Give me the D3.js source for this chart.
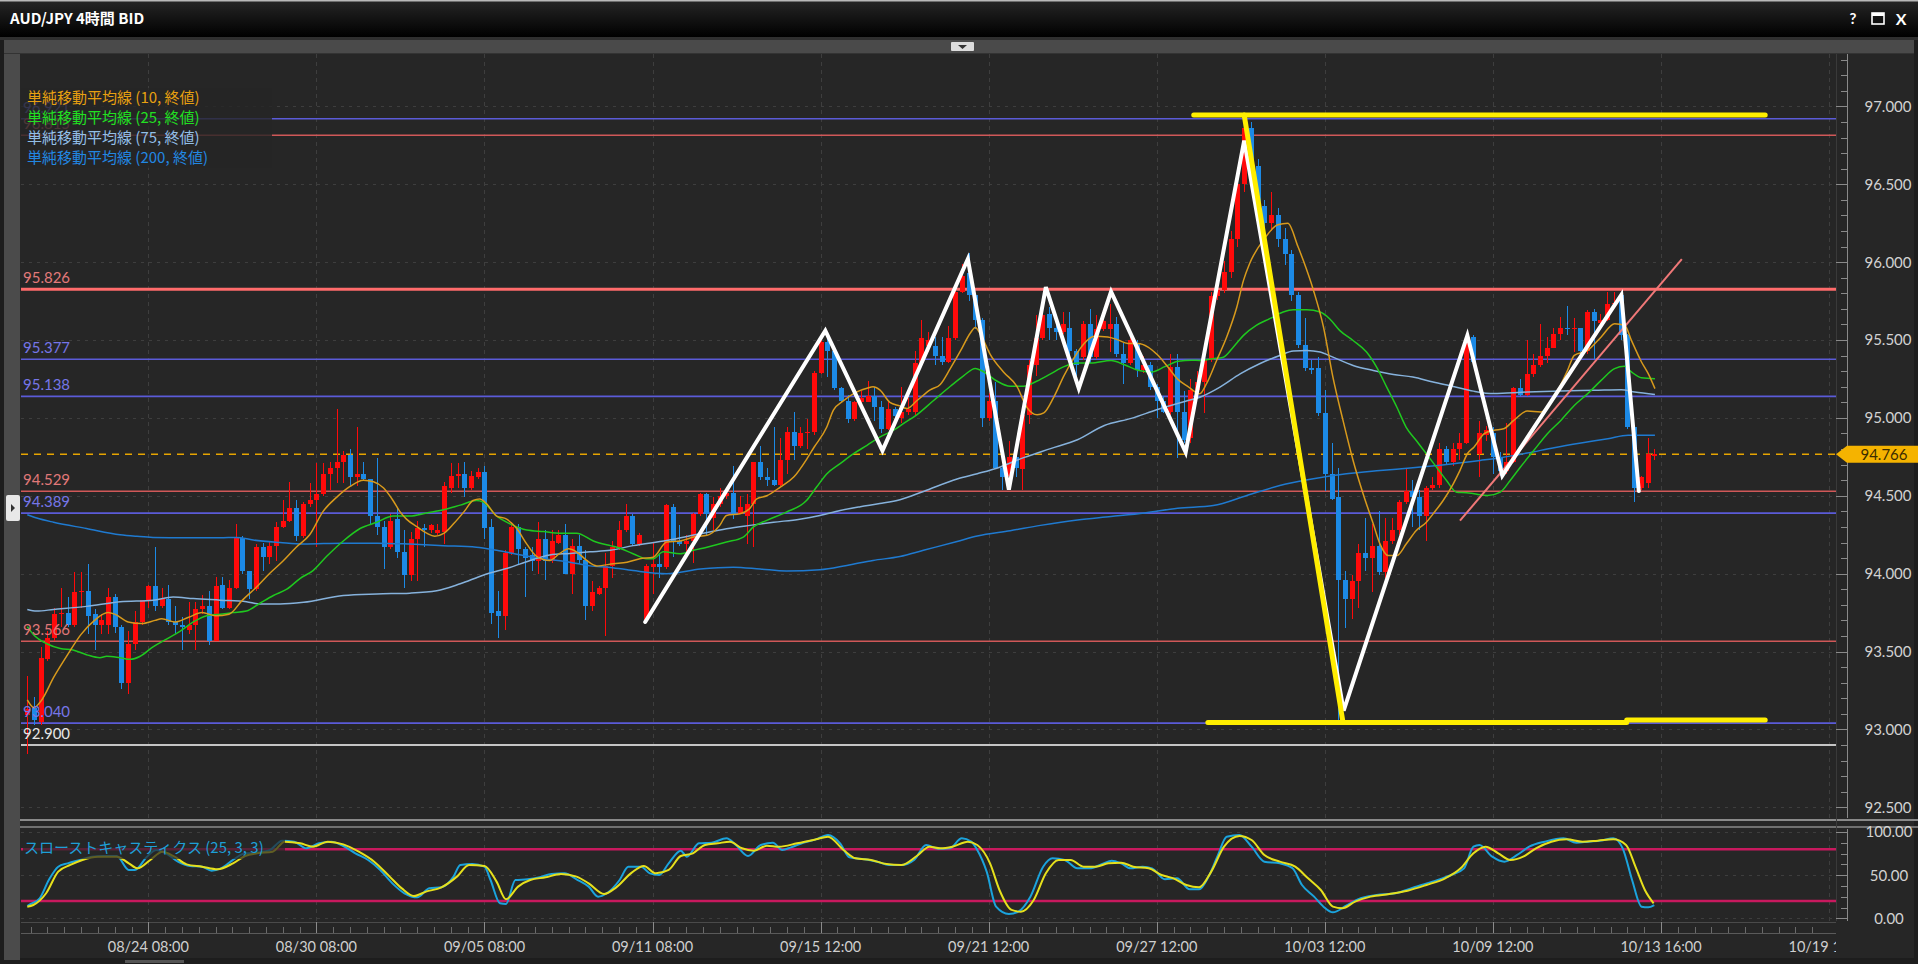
<!DOCTYPE html>
<html><head><meta charset="utf-8">
<script src="https://cdn.jsdelivr.net/npm/d3@7"></script>
<style>
html,body{margin:0;padding:0;background:#1c1c1c;overflow:hidden;}
svg{display:block;}
text{font-family:Lato,"Noto Sans CJK JP",sans-serif;}
</style></head><body>
<svg id="chart" width="1918" height="964"></svg>
<script>
// ---------------- DATA ----------------
const title = "AUD/JPY 4時間 BID";
const opens = [93.09,93.14,93.05,93.45,93.59,93.74,93.75,93.67,93.88,93.89,
93.74,93.67,93.67,93.85,93.66,93.30,93.55,93.69,93.83,93.92,
93.79,93.84,93.69,93.67,93.64,93.67,93.77,93.79,93.57,93.93,
93.78,93.91,94.23,94.02,93.90,94.17,94.11,94.18,94.30,94.34,
94.42,94.24,94.45,94.47,94.51,94.64,94.68,94.72,94.76,94.62,
94.64,94.61,94.37,94.30,94.17,94.35,94.14,93.99,94.22,94.29,
94.28,94.26,94.27,94.55,94.63,94.64,94.55,94.62,94.65,94.30,
93.76,93.73,94.13,94.30,94.16,94.12,94.08,94.22,94.08,94.20,
94.25,94.00,94.18,94.09,93.79,93.87,93.91,94.05,94.17,94.28,
94.37,94.19,93.70,94.04,94.06,94.04,94.43,94.21,94.19,94.21,
94.38,94.51,94.36,94.45,94.50,94.52,94.38,94.37,94.45,94.72,
94.62,94.60,94.57,94.73,94.91,94.82,94.90,94.91,95.29,95.49,
95.43,95.19,95.11,94.99,95.10,95.10,95.14,95.07,94.93,95.06,
95.00,95.04,95.04,95.35,95.46,95.46,95.40,95.36,95.51,95.81,
95.93,95.79,95.63,95.00,95.11,94.68,94.63,94.75,94.67,95.02,
95.34,95.51,95.67,95.58,95.55,95.58,95.43,95.39,95.60,95.39,
95.57,95.57,95.60,95.41,95.35,95.48,95.31,95.34,95.20,95.11,
95.04,95.33,95.04,94.87,95.18,95.23,95.37,95.78,95.82,95.94,
96.15,96.50,96.86,96.62,96.36,96.25,96.30,96.15,96.05,95.79,
95.47,95.32,95.32,95.03,94.64,94.49,93.96,93.84,93.95,94.13,
94.10,94.18,94.01,94.21,94.28,94.46,94.53,94.49,94.37,94.55,
94.57,94.80,94.72,94.80,94.84,95.52,94.77,94.89,94.90,94.75,
94.66,94.72,95.19,95.15,95.28,95.34,95.40,95.45,95.54,95.58,
95.57,95.58,95.43,95.68,95.61,95.63,95.73,95.79,95.53,94.94,
94.55,94.58,94.76];
const highs = [93.34,93.21,93.53,93.63,93.78,93.91,93.85,94.01,94.01,94.06,
93.77,93.74,93.91,93.87,93.67,93.63,93.76,93.83,93.93,94.17,
93.91,93.93,93.79,93.72,93.82,93.82,93.86,93.89,93.98,93.98,
93.96,94.32,94.24,94.02,94.19,94.20,94.21,94.33,94.47,94.59,
94.47,94.46,94.58,94.71,94.71,94.72,95.06,94.79,94.80,94.94,
94.72,94.61,94.74,94.34,94.38,94.42,94.28,94.27,94.34,94.32,
94.32,94.32,94.59,94.71,94.71,94.72,94.66,94.68,94.69,94.35,
93.89,94.15,94.33,94.32,94.17,94.17,94.33,94.28,94.28,94.28,
94.32,94.22,94.25,94.15,93.95,93.92,94.13,94.21,94.34,94.45,
94.38,94.26,94.06,94.20,94.13,94.45,94.45,94.31,94.25,94.39,
94.52,94.52,94.49,94.55,94.53,94.69,94.50,94.51,94.72,94.82,
94.68,94.94,94.87,94.94,95.04,94.94,94.99,95.30,95.54,95.53,
95.45,95.20,95.15,95.11,95.17,95.24,95.20,95.11,95.11,95.07,
95.20,95.13,95.43,95.63,95.55,95.52,95.52,95.59,95.82,95.99,
96.06,95.80,95.64,95.16,95.23,94.70,94.85,94.80,95.04,95.37,
95.66,95.71,95.71,95.62,95.68,95.68,95.44,95.62,95.70,95.66,
95.68,95.73,95.65,95.48,95.52,95.50,95.40,95.36,95.22,95.14,
95.41,95.41,95.17,95.25,95.30,95.39,95.81,95.86,96.01,96.20,
96.58,96.94,96.90,96.66,96.40,96.45,96.35,96.22,96.08,95.81,
95.64,95.37,95.39,95.18,94.84,94.68,94.02,93.99,94.19,94.36,
94.32,94.40,94.36,94.36,94.47,94.68,94.60,94.54,94.56,94.62,
94.84,94.82,94.84,94.90,95.54,95.53,94.98,94.95,94.94,94.78,
94.97,95.20,95.25,95.50,95.41,95.60,95.52,95.58,95.65,95.72,
95.64,95.58,95.69,95.70,95.67,95.81,95.81,95.81,95.54,94.95,
94.63,94.87,94.80];
const lows = [92.84,93.03,93.03,93.44,93.57,93.66,93.66,93.66,93.78,93.61,
93.51,93.61,93.61,93.62,93.26,93.23,93.51,93.67,93.78,93.76,
93.78,93.67,93.61,93.51,93.61,93.51,93.74,93.54,93.57,93.77,
93.77,93.90,94.00,93.84,93.89,94.02,94.06,94.08,94.29,94.33,
94.21,94.23,94.43,94.17,94.50,94.54,94.58,94.58,94.56,94.56,
94.60,94.32,94.25,94.03,94.16,94.10,93.91,93.95,93.95,94.17,
94.26,94.25,94.19,94.52,94.55,94.49,94.54,94.61,94.22,93.68,
93.59,93.64,94.12,94.06,93.85,94.02,94.00,93.96,94.07,94.19,
94.00,93.87,94.06,93.70,93.76,93.86,93.60,93.97,94.15,94.27,
94.18,94.18,93.69,93.87,93.97,94.03,94.11,94.18,94.13,94.07,
94.37,94.24,94.28,94.43,94.48,94.35,94.38,94.19,94.17,94.60,
94.56,94.56,94.56,94.64,94.73,94.81,94.80,94.89,95.28,95.26,
95.18,95.10,94.97,94.98,95.09,95.10,94.98,94.90,94.92,94.98,
94.97,95.02,95.02,95.34,95.42,95.34,95.34,95.35,95.50,95.80,
95.75,95.57,94.94,94.98,94.67,94.54,94.55,94.62,94.54,94.96,
95.27,95.50,95.50,95.50,95.54,95.39,95.27,95.37,95.35,95.38,
95.56,95.42,95.39,95.22,95.34,95.26,95.29,95.18,95.00,95.03,
95.02,94.74,94.84,94.84,95.14,95.03,95.36,95.76,95.80,95.90,
96.10,96.45,96.55,96.30,96.18,96.20,96.10,95.98,95.75,95.45,
95.30,95.28,95.01,94.53,94.47,93.06,93.65,93.71,93.78,94.02,
93.88,93.99,93.97,94.19,94.25,94.45,94.30,94.28,94.21,94.54,
94.55,94.70,94.69,94.73,94.83,95.34,94.62,94.85,94.64,94.63,
94.64,94.71,95.14,95.14,95.26,95.33,95.35,95.45,95.50,95.53,
95.42,95.41,95.41,95.38,95.58,95.62,95.72,95.50,94.93,94.46,
94.54,94.55,94.73];
const closes = [93.13,93.06,93.46,93.59,93.74,93.75,93.67,93.88,93.89,93.73,
93.67,93.70,93.85,93.66,93.30,93.55,93.69,93.83,93.92,93.79,
93.84,93.69,93.67,93.66,93.67,93.77,93.79,93.57,93.92,93.78,
93.91,94.23,94.02,93.90,94.17,94.11,94.18,94.30,94.34,94.42,
94.24,94.45,94.47,94.51,94.64,94.68,94.72,94.76,94.62,94.64,
94.61,94.37,94.30,94.17,94.34,94.14,93.99,94.22,94.29,94.28,
94.31,94.28,94.56,94.63,94.64,94.55,94.63,94.65,94.29,93.75,
93.73,94.13,94.30,94.16,94.10,94.08,94.22,94.08,94.21,94.25,
94.00,94.18,94.09,93.79,93.88,93.91,94.05,94.17,94.28,94.37,
94.19,94.25,94.05,94.06,94.04,94.44,94.21,94.19,94.21,94.38,
94.51,94.38,94.45,94.50,94.52,94.38,94.43,94.45,94.72,94.62,
94.60,94.57,94.73,94.91,94.82,94.90,94.91,95.29,95.49,95.43,
95.19,95.11,94.99,95.10,95.13,95.14,95.07,94.93,95.06,95.01,
95.04,95.06,95.35,95.51,95.50,95.40,95.36,95.51,95.81,95.91,
95.79,95.63,95.00,95.11,94.68,94.62,94.75,94.68,95.02,95.34,
95.51,95.66,95.58,95.55,95.60,95.43,95.34,95.60,95.39,95.57,
95.62,95.60,95.41,95.35,95.50,95.31,95.34,95.20,95.11,95.04,
95.33,95.04,94.86,95.18,95.23,95.37,95.78,95.82,95.94,96.15,
96.50,96.86,96.62,96.36,96.25,96.30,96.15,96.05,95.79,95.47,
95.32,95.31,95.03,94.64,94.48,93.96,93.84,93.95,94.13,94.10,
94.18,94.01,94.21,94.28,94.46,94.53,94.49,94.37,94.55,94.57,
94.80,94.72,94.80,94.84,95.50,95.36,94.90,94.92,94.75,94.66,
94.72,95.19,95.15,95.28,95.34,95.40,95.45,95.54,95.58,95.57,
95.58,95.43,95.68,95.62,95.63,95.73,95.74,95.53,94.94,94.55,
94.62,94.77,94.766];

// moving averages: [candle index, value]
const sma10 = [[0,93.19],[1,93.14],[2,93.18],[4,93.34],[6,93.48],[8,93.61],[10,93.70],[12,93.75],[13,93.74],[15,93.69],[17,93.68],[19,93.70],[20,93.71],[22,93.69],[24,93.72],[26,93.75],[28,93.73],[30,93.74],[32,93.83],[34,93.91],[36,94.00],[38,94.08],[40,94.17],[42,94.25],[44,94.40],[46,94.49],[48,94.56],[50,94.60],[51.5,94.59],[53,94.55],[54.4,94.47],[55.4,94.40],[56.4,94.35],[58,94.30],[59.4,94.26],[60.6,94.24],[62,94.26],[63.4,94.32],[65,94.40],[66.3,94.47],[67.3,94.48],[68.3,94.45],[69.8,94.37],[71.3,94.35],[72.8,94.29],[74.3,94.19],[75.8,94.11],[77.7,94.085],[79.2,94.13],[80.5,94.16],[81.7,94.14],[83.2,94.085],[84.7,94.05],[87.2,94.064],[89.2,94.074],[91.1,94.096],[93.1,94.106],[95.1,94.203],[97.1,94.21],[99.1,94.235],[101.1,94.246],[103,94.31],[104,94.374],[106,94.385],[107.5,94.42],[108.5,94.48],[110,94.50],[112,94.556],[114,94.62],[116,94.74],[117,94.81],[118.9,94.94],[119.9,95.05],[121.4,95.11],[122.9,95.156],[124.9,95.19],[125.8,95.20],[126.8,95.18],[128.3,95.10],[129.8,95.077],[130.8,95.06],[132.3,95.11],[134.3,95.18],[135.8,95.215],[137.3,95.318],[138.8,95.43],[140.3,95.547],[141,95.581],[141.8,95.535],[143.2,95.41],[145.2,95.295],[147.2,95.203],[148.7,95.066],[150.2,95.02],[151.2,95.032],[152.7,95.135],[154.2,95.272],[155.7,95.386],[157.2,95.478],[158.7,95.524],[160.7,95.52],[162.2,95.501],[163.7,95.478],[165.2,95.478],[166.7,95.455],[168.1,95.405],[169.6,95.33],[171.1,95.249],[172.6,95.203],[174.4,95.155],[175.4,95.22],[176.9,95.369],[178.4,95.519],[179.9,95.71],[180.9,95.883],[181.8,95.99],[184,96.15],[186,96.24],[187.5,96.25],[189,96.10],[189.8,96.01],[191.3,95.82],[192.8,95.583],[194.2,95.262],[195.7,94.984],[197.2,94.727],[198.7,94.512],[200.2,94.32],[201.2,94.191],[202.4,94.116],[203.7,94.116],[205.1,94.19],[206.6,94.277],[208.1,94.33],[209.1,94.384],[210.6,94.47],[212.1,94.577],[213.1,94.663],[214.2,94.77],[215.2,94.813],[216.7,94.899],[218.1,94.92],[219.6,94.93],[221.1,94.984],[223.1,95.044],[225.1,95.038],[227.1,95.134],[229.1,95.305],[230.1,95.402],[232.1,95.434],[234.1,95.52],[236.1,95.605],[237.6,95.595],[238.6,95.498],[240.1,95.359],[241.1,95.284],[242.1,95.188]];
const sma25 = [[0,93.66],[0.9,93.61],[2.9,93.55],[4.9,93.52],[6.8,93.51],[8.8,93.48],[10.8,93.46],[11.8,93.47],[13.8,93.46],[15.3,93.45],[16.8,93.47],[18.7,93.53],[20.7,93.58],[22.7,93.63],[24.7,93.69],[26.7,93.73],[28.7,93.74],[30.6,93.75],[32.6,93.76],[34.6,93.81],[36.6,93.86],[38.6,93.90],[40.6,93.97],[42.5,94.02],[44.5,94.11],[47,94.21],[49.5,94.29],[52,94.33],[54.4,94.37],[56.9,94.37],[59.4,94.39],[61.9,94.41],[64.4,94.44],[66.8,94.47],[67.8,94.46],[69.8,94.37],[71.8,94.32],[74.3,94.28],[76.8,94.27],[79.2,94.26],[81.7,94.26],[84.2,94.21],[86.7,94.18],[87.7,94.17],[90.1,94.128],[92.1,94.096],[93.1,94.096],[94.6,94.14],[97.1,94.128],[99.1,94.15],[101.1,94.17],[104,94.203],[106.5,94.235],[108,94.30],[110,94.342],[112.9,94.395],[115.9,94.47],[117.4,94.556],[118.9,94.64],[120.9,94.706],[122.9,94.77],[124.9,94.824],[126.8,94.877],[128.8,94.92],[130.3,94.963],[132.3,95.02],[134.8,95.112],[137.3,95.203],[139.3,95.272],[141,95.318],[142.3,95.295],[144.2,95.237],[146.2,95.203],[148.2,95.203],[150.2,95.237],[152.2,95.283],[154.2,95.329],[156.2,95.352],[158.2,95.352],[161.2,95.368],[163.2,95.341],[165.2,95.306],[167.2,95.295],[169.2,95.329],[171.2,95.364],[173.2,95.37],[174.4,95.369],[176.4,95.38],[177.9,95.39],[179.4,95.455],[180.9,95.53],[182.8,95.594],[184.8,95.637],[186.8,95.68],[188.3,95.695],[190.3,95.695],[192.3,95.68],[193.7,95.637],[195.2,95.562],[197.2,95.497],[199.2,95.423],[200.7,95.326],[202.2,95.198],[203.7,95.07],[205.1,94.94],[206.6,94.855],[208.1,94.77],[209.6,94.684],[211.1,94.598],[212.6,94.523],[214.1,94.52],[215.2,94.513],[217.2,94.502],[219.1,94.524],[220.6,94.6],[222.1,94.685],[224.1,94.792],[226.1,94.899],[228.1,94.984],[230.1,95.08],[232.1,95.156],[234.1,95.241],[236.1,95.316],[237.6,95.331],[238.6,95.295],[240.1,95.258],[242.1,95.252]];
const sma75 = [[0,93.77],[1.4,93.76],[3.9,93.77],[8.8,93.79],[13.8,93.82],[18.7,93.83],[21.7,93.85],[24.7,93.84],[28.7,93.83],[32.6,93.82],[34.6,93.805],[37.6,93.805],[41.1,93.816],[47,93.86],[52,93.87],[56.9,93.875],[60.9,93.89],[64.4,93.935],[67.8,93.99],[71.8,94.04],[74.8,94.085],[77.7,94.12],[80.7,94.13],[83.7,94.14],[86.7,94.15],[90.1,94.18],[95.1,94.213],[100.1,94.256],[104,94.288],[107.5,94.31],[111,94.33],[114.9,94.35],[117.9,94.374],[120.9,94.406],[123.9,94.43],[126.8,94.45],[129.8,94.475],[133.3,94.528],[138.3,94.608],[141.3,94.642],[144.2,94.677],[148.2,94.745],[152.2,94.803],[156.2,94.86],[160.2,94.951],[164.2,94.997],[168.1,95.054],[171.1,95.093],[173.1,95.116],[174.4,95.133],[177.4,95.198],[180.4,95.283],[183.3,95.348],[186.3,95.401],[188.3,95.429],[190.3,95.433],[192.3,95.423],[194.2,95.39],[197.2,95.337],[200.2,95.305],[203.2,95.279],[206.1,95.262],[209.1,95.23],[212.1,95.202],[215.1,95.172],[218.1,95.156],[220.1,95.16],[223.1,95.166],[228.1,95.173],[233.1,95.177],[237.1,95.181],[239.1,95.166],[242.1,95.151]];
const sma200 = [[0,94.378],[1.4,94.357],[3.9,94.33],[8.8,94.29],[13.8,94.25],[16.3,94.24],[18.7,94.233],[23.7,94.23],[28.7,94.23],[31.1,94.233],[33.6,94.216],[37.6,94.20],[41.1,94.19],[47,94.196],[52,94.196],[56.9,94.19],[61.9,94.18],[66.8,94.17],[69.8,94.15],[73.8,94.117],[76.8,94.096],[80.7,94.074],[83.7,94.05],[86.7,94.04],[90.1,94.02],[95.1,94.0],[100.1,94.03],[105,94.042],[109,94.03],[112.9,94.017],[117.9,94.025],[121.9,94.053],[125.8,94.085],[129.8,94.11],[133.3,94.15],[138.3,94.207],[141.3,94.242],[146.2,94.276],[150.7,94.31],[156.2,94.345],[161.2,94.367],[166.2,94.39],[171.1,94.42],[176.4,94.437],[181.4,94.502],[186.3,94.566],[191.3,94.609],[196.2,94.641],[201.2,94.662],[206.1,94.68],[211.1,94.701],[216.1,94.727],[219.1,94.744],[223.1,94.774],[227.1,94.809],[231.1,94.839],[235.1,94.866],[238.1,94.888],[242.1,94.888]];

// slow stochastics: [candle index, value]
const stochK = [[0,14.3],[0.5,16.6],[1.85,23.2],[3.2,44.4],[4.6,59.8],[6,63.7],[7.8,67.6],[9.6,71.4],[11.4,72.2],[13.3,72.2],[15.1,56.0],[16,56.0],[17.8,71.4],[19.2,79.2],[20.6,75.3],[22.4,65.6],[24.2,60.6],[26,59.8],[27.4,55.2],[28.8,57.9],[30.6,67.6],[32.4,75.3],[34.2,76.1],[36.1,79.2],[37.9,90.0],[39.7,88.8],[41.5,81.1],[43.4,86.9],[45.2,88.8],[47,83.8],[48.8,75.3],[50.7,67.6],[52.5,56.0],[54.3,40.5],[56.1,29.0],[58,24.3],[59.8,34.7],[61.6,35.9],[63.4,48.3],[64.4,61.8],[66.2,62.9],[68,59.8],[68.9,44.4],[70.3,17.4],[71.2,16.6],[72.6,44.4],[74.4,45.2],[76.2,47.5],[78,51.4],[79.9,52.1],[81.7,45.2],[83.5,36.7],[84.9,25.1],[86.2,29.0],[88.1,44.4],[89.4,59.8],[91.3,59.8],[92.6,52.1],[94,50.2],[95.4,63.7],[97.2,78.4],[98.1,71.4],[99.9,86.9],[101.8,87.6],[104,92.7],[105.4,84.9],[107.2,72.2],[109.1,84.9],[110.9,87.6],[112.3,79.2],[113.6,82.2],[115.4,87.6],[117.3,91.5],[119.1,96.5],[120.9,86.9],[122.3,70.7],[124.6,68.3],[126.4,65.6],[128.2,61.8],[130,61.8],[131.9,67.6],[133.7,84.9],[135.5,80.5],[137.2,81.1],[139,92.7],[140.4,88.8],[141.3,79.2],[142.7,54.1],[144.1,13.5],[146,5.0],[147.4,7.7],[149.2,25.1],[151.1,59.8],[152.5,69.5],[154.3,67.6],[156.2,57.9],[158,57.9],[159.9,62.9],[161.3,66.8],[162.7,63.7],[164.1,57.9],[165.9,59.8],[167.3,57.9],[169.2,45.2],[171,46.3],[172.9,33.6],[174.3,33.6],[175.7,48.3],[177,71.4],[178.4,94.6],[180.3,96.5],[182.1,83.0],[184,65.6],[186.3,63.7],[188.2,57.9],[189.6,38.6],[191.4,25.1],[192.8,13.5],[194.2,6.9],[196.1,14.3],[197.9,22.0],[200.7,27.0],[203.5,29.0],[206.3,35.9],[209,42.5],[211.8,50.2],[213.7,57.9],[215.1,83.0],[216,84.9],[217.9,71.4],[219.7,65.6],[221.6,73.4],[223.4,83.0],[225.7,88.8],[228.5,92.7],[230.4,87.6],[232.2,88.8],[234.1,90.0],[235.9,92.7],[237.3,81.1],[238.7,44.4],[240.1,13.5],[241.1,12.7],[242,15.4]];
const stochD = [[0,13.5],[0.9,15.4],[2.8,29.0],[4.6,54.1],[6.4,61.8],[8.2,67.6],[10.5,71.4],[13.3,71.4],[15.1,63.7],[16.4,57.9],[18.3,67.6],[20.1,77.2],[21.9,71.4],[23.7,62.5],[26,59.8],[28.3,56.8],[30.6,63.7],[32.4,72.2],[34.2,75.3],[36.5,77.2],[38.3,88.8],[40.6,86.9],[42.5,83.0],[44.7,88.8],[47,85.7],[49.3,77.2],[51.6,65.6],[53.9,48.3],[55.7,34.7],[57.5,25.9],[59.3,30.9],[61.6,35.9],[63.9,48.3],[65.7,61.8],[68,60.6],[69.8,42.5],[71.2,22.0],[73,36.7],[74.8,44.4],[77.1,47.5],[79.4,51.4],[81.7,48.3],[83.5,40.5],[85.8,28.2],[87.6,35.9],[89.9,52.9],[91.7,60.6],[93.5,52.1],[95.4,56.0],[97.2,72.2],[99,75.3],[100.8,84.9],[102.7,86.9],[104.5,88.8],[106.3,81.1],[108.1,78.4],[110,84.2],[111.8,83.0],[114.5,86.9],[117.3,91.5],[119.1,94.6],[121.4,79.2],[123.2,69.5],[125.5,67.6],[127.8,62.9],[130,61.8],[132.3,72.2],[134.2,83.0],[135.8,81.1],[137.6,83.0],[139.9,88.8],[141.3,84.9],[143.2,63.7],[144.6,32.8],[146.4,9.7],[147.8,7.7],[149.7,21.2],[151.5,52.1],[153.4,67.6],[155.2,67.6],[157.1,59.8],[158.9,59.8],[160.8,63.7],[162.7,64.5],[164.5,59.8],[166.8,57.9],[168.7,50.2],[170.5,46.3],[172.4,38.6],[174.3,35.9],[176.1,54.1],[178,83.0],[180.3,95.4],[182.1,90.7],[184,73.4],[186.3,65.6],[188.6,59.8],[190.5,46.3],[192.4,32.8],[194.2,13.5],[195.6,11.6],[197.5,19.3],[199.8,25.1],[202.6,28.2],[205.3,32.0],[208.1,38.6],[210.9,46.3],[213.2,57.9],[215.1,75.3],[216.9,83.0],[218.8,75.3],[220.6,67.6],[222.5,71.4],[224.4,81.1],[226.7,88.8],[229,91.5],[231.3,88.8],[233.6,90.0],[235.9,91.5],[237.8,84.9],[239.2,59.8],[240.6,32.8],[241.9,17.4]];
const stochLevels = [20, 80];

// horizontal price levels drawn on the chart
const levelValues = [96.921, 96.815, 95.826, 95.377, 95.138, 94.529, 94.389, 93.566, 93.040, 92.900];
const levelLabels = ["96.921", "96.815", "95.826", "95.377", "95.138", "94.529", "94.389", "93.566", "93.040", "92.900"];
const currentPrice = 94.766;
const currentLabel = "94.766";

// hand-drawn annotations: [candle index, price]
const zigzag = [[91.9,93.69],[118.7,95.56],[127.2,94.79],[139.9,96.02],[146.0,94.54],[151.5,95.84],[156.4,95.19],[161.2,95.81],[172.3,94.78],[181.0,96.78],[195.8,93.12],[214.2,95.53],[219.4,94.63],[237.1,95.79],[239.7,94.53]];
const yellowTop = [[173.5,96.945],[258.5,96.945]];
const yellowDiag = [[181.0,96.945],[195.7,93.045]];
const yellowBottom1 = [[175.6,93.045],[237.9,93.045]];
const yellowBottom2 = [[237.9,93.06],[258.5,93.06]];
const trendLine = [[213.1,94.34],[246.1,96.02]];

// axes
const priceTicks = [92.5, 93.0, 93.5, 94.0, 94.5, 95.0, 95.5, 96.0, 96.5, 97.0];
const stochTicks = [0, 50, 100];
const timeTickIdx = [18, 43, 68, 93, 118, 143, 168, 193, 218, 243, 268];
const timeTickLabels = ["08/24 08:00","08/30 08:00","09/05 08:00","09/11 08:00","09/15 12:00","09/21 12:00","09/27 12:00","10/03 12:00","10/09 12:00","10/13 16:00","10/19 16:00"];
const legendLabels = ["単純移動平均線 (10, 終値)", "単純移動平均線 (25, 終値)", "単純移動平均線 (75, 終値)", "単純移動平均線 (200, 終値)"];
const stochLabel = "スローストキャスティクス (25, 3, 3)";

// ---------------- LAYOUT / STYLE ----------------
const W = 1918, H = 964;
const PL = 21, PR = 1836, AX = 1847;
const MT = 54, MB = 818, ST = 829, SB = 921;
const UP = "#ff0a0a", DN = "#1c8ae6";
const levelStyle = [
  {c:"#5b5bd8", w:1.6, t:"#7676e8"}, {c:"#d05858", w:1.6, t:"#e07878"},
  {c:"#ff6b6b", w:3.2, t:"#e37a7a"}, {c:"#5b5bd8", w:1.6, t:"#7676e8"},
  {c:"#5b5bd8", w:1.6, t:"#7676e8"}, {c:"#d05858", w:1.6, t:"#e07878"},
  {c:"#5b5bd8", w:1.6, t:"#7676e8"}, {c:"#d05858", w:1.6, t:"#e07878"},
  {c:"#5b5bd8", w:1.8, t:"#7676e8"}, {c:"#c4c4c4", w:2.2, t:"#e6e6e6"}];
const maStyle = [{d:sma200,c:"#1f7ad0"},{d:sma75,c:"#86b2dc"},{d:sma25,c:"#1fc81f"},{d:sma10,c:"#d89a1c"}];
const legendColors = ["#e8a010", "#22e022", "#92bfe8", "#2287e2"];

const x = d3.scaleLinear().domain([0, 243]).range([27.3, 1661]);
const y = d3.scaleLinear().domain([92.5, 97]).range([807.3, 106.4]);
const ys = d3.scaleLinear().domain([0, 100]).range([918.3, 832]);

const svg = d3.select("#chart");
const defs = svg.append("defs");
const gr = defs.append("linearGradient").attr("id","tb").attr("x1",0).attr("y1",0).attr("x2",0).attr("y2",1);
gr.append("stop").attr("offset","0%").attr("stop-color","#262626");
gr.append("stop").attr("offset","100%").attr("stop-color","#000");
defs.append("clipPath").attr("id","mainClip").append("rect").attr("x",PL).attr("y",MT).attr("width",PR-PL).attr("height",MB-MT);
defs.append("clipPath").attr("id","stClip").append("rect").attr("x",PL).attr("y",ST).attr("width",PR-PL).attr("height",SB-ST);
defs.append("clipPath").attr("id","timeClip").append("rect").attr("x",PL).attr("y",920).attr("width",PR-PL).attr("height",44);

// backgrounds
svg.append("rect").attr("width",W).attr("height",H).attr("fill","#1d1d1d");
svg.append("rect").attr("x",0).attr("y",0).attr("width",W).attr("height",37).attr("fill","url(#tb)");
svg.append("rect").attr("x",0).attr("y",0).attr("width",W).attr("height",1.5).attr("fill","#b8b8b8");
svg.append("rect").attr("x",0).attr("y",37).attr("width",W).attr("height",3).attr("fill","#2f2f2f");
svg.append("rect").attr("x",4).attr("y",40).attr("width",W-8).attr("height",13).attr("fill","#4a4a4a");
svg.append("rect").attr("x",4).attr("y",53).attr("width",W-8).attr("height",1).attr("fill","#333");
svg.append("rect").attr("x",951).attr("y",42).attr("width",23).attr("height",9).attr("fill","#dcdcdc").attr("rx",1);
svg.append("path").attr("d","M958,45 L967,45 L962.5,49 Z").attr("fill","#333");
svg.append("rect").attr("x",20).attr("y",54).attr("width",W-24).attr("height",904).attr("fill","#262626");
svg.append("rect").attr("x",4).attr("y",54).attr("width",16).attr("height",906).attr("fill","#4b4b4b");
svg.append("rect").attr("x",6).attr("y",495).attr("width",14).attr("height",26).attr("fill","#e8e8e8").attr("rx",2);
svg.append("path").attr("d","M11,504 L15,508 L11,512 Z").attr("fill","#333");

// title bar
svg.append("text").attr("x",10).attr("y",19).attr("dy","0.35em").attr("fill","#fff")
  .style("font-family","'Noto Sans CJK JP',sans-serif").style("font-weight","bold").style("font-size","15px").text(title);
svg.append("text").attr("x",1853).attr("y",19).attr("dy","0.35em").attr("text-anchor","middle").attr("fill","#fff").style("font-size","15px").style("font-weight","bold").text("?");
svg.append("rect").attr("x",1872).attr("y",13).attr("width",12).attr("height",11).attr("fill","none").attr("stroke","#fff").attr("stroke-width",1.6);
svg.append("rect").attr("x",1872).attr("y",13).attr("width",12).attr("height",3).attr("fill","#fff");
svg.append("text").attr("x",1901).attr("y",19).attr("dy","0.35em").attr("text-anchor","middle").attr("fill","#fff").style("font-size","16px").style("font-weight","bold").text("X");

// grids
const grid = svg.append("g").attr("stroke","#3e3e3e").attr("stroke-width",1).attr("shape-rendering","crispEdges");
priceTicks.forEach(p => grid.append("line").attr("x1",PL).attr("x2",PR).attr("y1",Math.round(y(p))+0.5).attr("y2",Math.round(y(p))+0.5).attr("stroke-dasharray","3,5"));
stochTicks.forEach(v => grid.append("line").attr("x1",PL).attr("x2",PR).attr("y1",Math.round(ys(v))+0.5).attr("y2",Math.round(ys(v))+0.5).attr("stroke-dasharray","3,5"));
timeTickIdx.forEach(i => {
  const xx = Math.round(x(i))+0.5;
  if (xx > PR) return;
  grid.append("line").attr("x1",xx).attr("x2",xx).attr("y1",MT).attr("y2",MB).attr("stroke-dasharray","4,4");
  grid.append("line").attr("x1",xx).attr("x2",xx).attr("y1",ST).attr("y2",SB).attr("stroke-dasharray","4,4");
});

// panel separators
svg.append("rect").attr("x",20).attr("y",819).attr("width",W-20).attr("height",2).attr("fill","#8a8a8a");
svg.append("rect").attr("x",20).attr("y",826).attr("width",W-20).attr("height",2).attr("fill","#707070");
svg.append("line").attr("x1",PR+0.5).attr("x2",PR+0.5).attr("y1",MT).attr("y2",SB).attr("stroke","#3a3a3a");

// main panel
const main = svg.append("g").attr("clip-path","url(#mainClip)");
levelValues.forEach((v,k) => {
  main.append("line").attr("x1",PL).attr("x2",PR).attr("y1",y(v)).attr("y2",y(v))
    .attr("stroke",levelStyle[k].c).attr("stroke-width",levelStyle[k].w);
});
main.append("line").attr("x1",PL).attr("x2",PR).attr("y1",y(currentPrice)).attr("y2",y(currentPrice))
  .attr("stroke","#e6a400").attr("stroke-width",1.5).attr("stroke-dasharray","7,6");

// candles
const bw = 5;
const cg = main.append("g").attr("shape-rendering","crispEdges");
closes.forEach((c,i) => {
  const o = opens[i], col = c >= o ? UP : DN;
  const xc = Math.round(x(i));
  cg.append("line").attr("x1",xc+0.5).attr("x2",xc+0.5).attr("y1",y(highs[i])).attr("y2",y(lows[i])).attr("stroke",col).attr("stroke-width",1);
  const top = y(Math.max(o,c)), bot = y(Math.min(o,c));
  cg.append("rect").attr("x",xc-2).attr("y",top).attr("width",bw).attr("height",Math.max(1.2,bot-top)).attr("fill",col);
});

// moving averages
const lineGen = d3.line().x(d => x(d[0])).y(d => y(d[1])).curve(d3.curveMonotoneX);
maStyle.forEach(m => main.append("path").attr("d",lineGen(m.d)).attr("fill","none").attr("stroke",m.c).attr("stroke-width",1.5));

// annotations
const segGen = d3.line().x(d => x(d[0])).y(d => y(d[1]));
main.append("path").attr("d",segGen(trendLine)).attr("stroke","#f07878").attr("stroke-width",2).attr("fill","none");
main.append("path").attr("d",segGen(zigzag)).attr("stroke","#ffffff").attr("stroke-width",4).attr("fill","none").attr("stroke-linejoin","miter").attr("stroke-linecap","round");
[yellowTop, yellowDiag, yellowBottom1, yellowBottom2].forEach(s =>
  main.append("path").attr("d",segGen(s)).attr("stroke","#ffee00").attr("stroke-width",5).attr("fill","none").attr("stroke-linecap","round"));

// level labels
levelValues.forEach((v,k) => {
  main.append("text").attr("x",PL+2).attr("y",y(v)-6).attr("fill",levelStyle[k].t).style("font-size","15px").text(levelLabels[k]);
});

// legend (semi-transparent box over the two top level labels, as in the original)
svg.append("rect").attr("x",PL).attr("y",88).attr("width",251).attr("height",80).attr("fill","rgba(38,38,38,0.8)");
legendLabels.forEach((t,k) => {
  svg.append("text").attr("x",27).attr("y",98 + k*20).attr("dy","0.36em").attr("fill",legendColors[k])
    .style("font-family","'Noto Sans CJK JP',sans-serif").style("font-size","15px").text(t);
});

// stochastic panel
const st = svg.append("g").attr("clip-path","url(#stClip)");
stochLevels.forEach(v => st.append("line").attr("x1",PL).attr("x2",PR).attr("y1",ys(v)).attr("y2",ys(v)).attr("stroke","#c8195e").attr("stroke-width",2.6));
const stGen = d3.line().x(d => x(d[0])).y(d => ys(d[1])).curve(d3.curveMonotoneX);
st.append("path").attr("d",stGen(stochK)).attr("fill","none").attr("stroke","#1ba3dc").attr("stroke-width",2);
st.append("path").attr("d",stGen(stochD)).attr("fill","none").attr("stroke","#e6e01c").attr("stroke-width",2);
svg.append("rect").attr("x",PL+2).attr("y",838).attr("width",262).attr("height",21).attr("fill","rgba(38,38,38,0.7)");
svg.append("text").attr("x",24).attr("y",848).attr("dy","0.36em").attr("fill","#1e9fd6")
  .style("font-family","'Noto Sans CJK JP',sans-serif").style("font-size","15px").text(stochLabel);

// right axis (price)
const ax = svg.append("g").attr("shape-rendering","crispEdges");
ax.append("line").attr("x1",AX+0.5).attr("x2",AX+0.5).attr("y1",MT).attr("y2",818).attr("stroke","#8a8a8a");
ax.append("line").attr("x1",AX+0.5).attr("x2",AX+0.5).attr("y1",829).attr("y2",SB).attr("stroke","#8a8a8a");
d3.range(924, 974).forEach(k => {
  const p = k / 10, yy = Math.round(y(p)) + 0.5;
  if (yy < MT || yy > 817) return;
  const major = (k % 5 === 0);
  ax.append("line").attr("x1",major ? AX-11 : AX-6).attr("x2",AX).attr("y1",yy).attr("y2",yy).attr("stroke","#8a8a8a");
});
priceTicks.forEach(p => ax.append("text").attr("x",1888).attr("y",y(p)).attr("dy","0.36em").attr("text-anchor","middle")
  .attr("fill","#d2d2d2").style("font-size","15px").text(p.toFixed(3)));
d3.range(0, 101, 12.5).forEach(v => {
  const yy = Math.round(ys(v)) + 0.5, major = (v % 50 === 0);
  ax.append("line").attr("x1",major ? AX-11 : AX-6).attr("x2",AX).attr("y1",yy).attr("y2",yy).attr("stroke","#8a8a8a");
});
stochTicks.forEach(v => ax.append("text").attr("x",1889).attr("y",ys(v)).attr("dy","0.36em").attr("text-anchor","middle")
  .attr("fill","#d2d2d2").style("font-size","15px").text(v.toFixed(2)));

// current price tag
const yc = y(currentPrice);
svg.append("path").attr("d",`M${PR},${yc} L${AX},${yc-8.5} L${W},${yc-8.5} L${W},${yc+8.5} L${AX},${yc+8.5} Z`).attr("fill","#f5b300");
svg.append("text").attr("x",1884).attr("y",yc).attr("dy","0.36em").attr("text-anchor","middle").attr("fill","#3b2c00").style("font-size","15px").text(currentLabel);

// time axis
const ta = svg.append("g").attr("shape-rendering","crispEdges");
ta.append("line").attr("x1",PL).attr("x2",PR).attr("y1",922.5).attr("y2",922.5).attr("stroke","#4a4a4a");
ta.append("line").attr("x1",PL).attr("x2",PR).attr("y1",933.5).attr("y2",933.5).attr("stroke","#5a5a5a");
d3.range(0, 110).forEach(k => {
  const i = -7 + k * 2.5, xx = Math.round(x(i)) + 0.5;
  if (xx < PL || xx > PR) return;
  const major = ((k - 10) % 10 === 0) && k >= 10;
  ta.append("line").attr("x1",xx).attr("x2",xx).attr("y1",major ? 922 : 927).attr("y2",933).attr("stroke",major ? "#8a8a8a" : "#6a6a6a");
});
const tl = svg.append("g").attr("clip-path","url(#timeClip)");
timeTickIdx.forEach((i,k) => tl.append("text").attr("x",x(i)).attr("y",947).attr("dy","0.36em").attr("text-anchor","middle")
  .attr("fill","#cfcfcf").style("font-size","14.5px").text(timeTickLabels[k]));
svg.append("rect").attr("x",125).attr("y",960).attr("width",59).attr("height",3).attr("fill","#555");
</script>
</body></html>
